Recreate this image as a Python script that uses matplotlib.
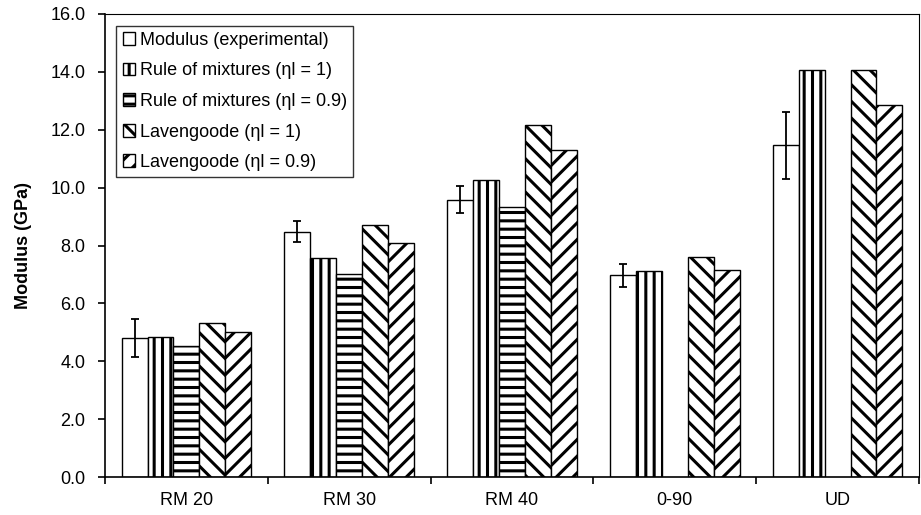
import numpy as np
import matplotlib
matplotlib.use('Agg')
import matplotlib.pyplot as plt

# values (GPa)
categories = ['RM 20', 'RM 30', 'RM 40', '0-90', 'UD']
modulus_exp = [4.80, 8.48, 9.58, 6.97, 11.46]
modulus_err = [0.67, 0.36, 0.47, 0.40, 1.15]
rom_1 = [4.84, 7.58, 10.25, 7.13, 14.05]
rom_09 = [4.53, 7.02, 9.32, np.nan, np.nan]
lav_1 = [5.33, 8.70, 12.16, 7.59, 14.05]
lav_09 = [5.02, 8.10, 11.30, 7.17, 12.84]

labels = ['Modulus (experimental)',
          'Rule of mixtures (ηl = 1)',
          'Rule of mixtures (ηl = 0.9)',
          'Lavengoode (ηl = 1)',
          'Lavengoode (ηl = 0.9)']
hatches = ['', '||', '--', '\\\\', '//']

plt.rcParams['font.family'] = ['Liberation Sans', 'DejaVu Sans']
plt.rcParams['hatch.linewidth'] = 2.2
plt.rcParams['hatch.color'] = 'black'

fig = plt.figure(figsize=(9.21, 5.15), dpi=100)
ax = fig.add_axes([105 / 921, 1 - 477 / 515, 814 / 921, 463 / 515])

x = np.arange(len(categories))
width = 0.159
series = [modulus_exp, rom_1, rom_09, lav_1, lav_09]

for i, (vals, lab, h) in enumerate(zip(series, labels, hatches)):
    pos = x + (i - 2) * width
    ax.bar(pos, vals, width, color='white', edgecolor='black', linewidth=1.0,
           hatch=h, label=lab, zorder=2)

ax.errorbar(x - 2 * width, modulus_exp, yerr=modulus_err, fmt='none',
            ecolor='black', elinewidth=1.3, capsize=3, capthick=1.3, zorder=3)

fs = 13
ax.set_xlim(-0.5, len(categories) - 0.5)
ax.set_ylim(0, 16)
ax.set_yticks(np.arange(0, 16.1, 2))
ax.set_yticklabels([f'{v:.1f}' for v in np.arange(0, 16.1, 2)], fontsize=fs)
ax.set_xticks(x)
ax.set_xticklabels(categories, fontsize=fs)
ax.set_xticks(np.arange(-0.5, len(categories), 1), minor=True)
ax.tick_params(axis='x', which='major', length=0, pad=11)
ax.tick_params(axis='x', which='minor', length=5, width=1.2, direction='out')
ax.tick_params(axis='y', length=5, width=1.2, direction='out', pad=9)
for s in ax.spines.values():
    s.set_linewidth(1.2)
ax.spines['top'].set_linewidth(0.8)
ax.spines['right'].set_linewidth(0.8)

ax.set_ylabel('Modulus (GPa)', fontsize=fs, fontweight='bold', labelpad=13)

leg = ax.legend(loc='upper left', bbox_to_anchor=(0.014, 0.975), fontsize=fs,
                frameon=True, fancybox=False, edgecolor='black',
                handlelength=0.7, handleheight=0.7, handletextpad=0.25,
                labelspacing=0.75, borderpad=0.35, borderaxespad=0)
leg.get_frame().set_linewidth(1.0)

fig.savefig('out.png', dpi=100)
